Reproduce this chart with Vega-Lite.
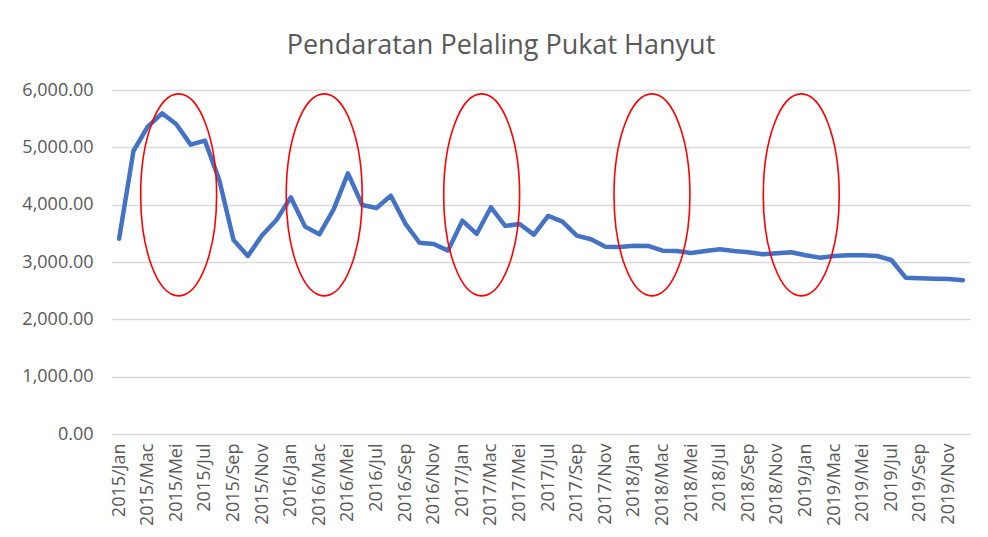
{
  "$schema": "https://vega.github.io/schema/vega-lite/v6.json",
  "width": 858,
  "height": 344,
  "autosize": {"type": "none"},
  "padding": {"left": 112, "top": 90, "right": 18, "bottom": 103},
  "background": "white",
  "config": {
    "view": {"stroke": null},
    "font": "Open Sans"
  },
  "title": {
    "text": "Pendaratan Pelaling Pukat Hanyut",
    "font": "Open Sans",
    "fontSize": 27,
    "fontWeight": "normal",
    "color": "#595959",
    "anchor": "middle",
    "dx": -40,
    "offset": 21
  },
  "datasets": {
    "landings": [
      {"idx": 0, "bulan": "2015/Jan", "value": 3407},
      {"idx": 1, "bulan": "2015/Feb", "value": 4936},
      {"idx": 2, "bulan": "2015/Mac", "value": 5360},
      {"idx": 3, "bulan": "2015/Apr", "value": 5594},
      {"idx": 4, "bulan": "2015/Mei", "value": 5402},
      {"idx": 5, "bulan": "2015/Jun", "value": 5047},
      {"idx": 6, "bulan": "2015/Jul", "value": 5117},
      {"idx": 7, "bulan": "2015/Ogo", "value": 4430},
      {"idx": 8, "bulan": "2015/Sep", "value": 3384},
      {"idx": 9, "bulan": "2015/Okt", "value": 3105},
      {"idx": 10, "bulan": "2015/Nov", "value": 3466},
      {"idx": 11, "bulan": "2015/Dis", "value": 3733},
      {"idx": 12, "bulan": "2016/Jan", "value": 4128},
      {"idx": 13, "bulan": "2016/Feb", "value": 3617},
      {"idx": 14, "bulan": "2016/Mac", "value": 3483},
      {"idx": 15, "bulan": "2016/Apr", "value": 3919},
      {"idx": 16, "bulan": "2016/Mei", "value": 4547},
      {"idx": 17, "bulan": "2016/Jun", "value": 3994},
      {"idx": 18, "bulan": "2016/Jul", "value": 3942},
      {"idx": 19, "bulan": "2016/Ogo", "value": 4157},
      {"idx": 20, "bulan": "2016/Sep", "value": 3675},
      {"idx": 21, "bulan": "2016/Okt", "value": 3335},
      {"idx": 22, "bulan": "2016/Nov", "value": 3314},
      {"idx": 23, "bulan": "2016/Dis", "value": 3198},
      {"idx": 24, "bulan": "2017/Jan", "value": 3721},
      {"idx": 25, "bulan": "2017/Feb", "value": 3489},
      {"idx": 26, "bulan": "2017/Mac", "value": 3954},
      {"idx": 27, "bulan": "2017/Apr", "value": 3628},
      {"idx": 28, "bulan": "2017/Mei", "value": 3663},
      {"idx": 29, "bulan": "2017/Jun", "value": 3477},
      {"idx": 30, "bulan": "2017/Jul", "value": 3803},
      {"idx": 31, "bulan": "2017/Ogo", "value": 3704},
      {"idx": 32, "bulan": "2017/Sep", "value": 3460},
      {"idx": 33, "bulan": "2017/Okt", "value": 3396},
      {"idx": 34, "bulan": "2017/Nov", "value": 3268},
      {"idx": 35, "bulan": "2017/Dis", "value": 3262},
      {"idx": 36, "bulan": "2018/Jan", "value": 3285},
      {"idx": 37, "bulan": "2018/Feb", "value": 3280},
      {"idx": 38, "bulan": "2018/Mac", "value": 3198},
      {"idx": 39, "bulan": "2018/Apr", "value": 3192},
      {"idx": 40, "bulan": "2018/Mei", "value": 3157},
      {"idx": 41, "bulan": "2018/Jun", "value": 3192},
      {"idx": 42, "bulan": "2018/Jul", "value": 3221},
      {"idx": 43, "bulan": "2018/Ogo", "value": 3192},
      {"idx": 44, "bulan": "2018/Sep", "value": 3169},
      {"idx": 45, "bulan": "2018/Okt", "value": 3134},
      {"idx": 46, "bulan": "2018/Nov", "value": 3152},
      {"idx": 47, "bulan": "2018/Dis", "value": 3169},
      {"idx": 48, "bulan": "2019/Jan", "value": 3117},
      {"idx": 49, "bulan": "2019/Feb", "value": 3076},
      {"idx": 50, "bulan": "2019/Mac", "value": 3105},
      {"idx": 51, "bulan": "2019/Apr", "value": 3117},
      {"idx": 52, "bulan": "2019/Mei", "value": 3117},
      {"idx": 53, "bulan": "2019/Jun", "value": 3105},
      {"idx": 54, "bulan": "2019/Jul", "value": 3035},
      {"idx": 55, "bulan": "2019/Ogo", "value": 2727},
      {"idx": 56, "bulan": "2019/Sep", "value": 2716},
      {"idx": 57, "bulan": "2019/Okt", "value": 2710},
      {"idx": 58, "bulan": "2019/Nov", "value": 2704},
      {"idx": 59, "bulan": "2019/Dis", "value": 2681}
    ],
    "circles": [
      {"idx": 4.16, "value": 4170},
      {"idx": 14.34, "value": 4170},
      {"idx": 25.35, "value": 4170},
      {"idx": 37.26, "value": 4170},
      {"idx": 47.7, "value": 4170}
    ]
  },
  "encoding": {
    "x": {
      "field": "idx",
      "type": "quantitative",
      "scale": {"domain": [-0.5, 59.5], "nice": false, "zero": false},
      "axis": {
        "title": null,
        "values": [0, 2, 4, 6, 8, 10, 12, 14, 16, 18, 20, 22, 24, 26, 28, 30, 32, 34, 36, 38, 40, 42, 44, 46, 48, 50, 52, 54, 56, 58],
        "labelExpr": "(2015 + floor(datum.value / 12)) + '/' + ['Jan','Feb','Mac','Apr','Mei','Jun','Jul','Ogo','Sep','Okt','Nov','Dis'][datum.value % 12]",
        "labelAngle": -90,
        "labelAlign": "right",
        "labelBaseline": "middle",
        "labelFont": "Open Sans",
        "labelFontSize": 18,
        "labelColor": "#595959",
        "labelPadding": 9,
        "labelOverlap": false,
        "labelBound": false,
        "labelFlush": false,
        "ticks": false,
        "domain": false,
        "grid": false
      }
    },
    "y": {
      "field": "value",
      "type": "quantitative",
      "scale": {"domain": [0, 6000], "nice": false},
      "axis": {
        "title": null,
        "values": [0, 1000, 2000, 3000, 4000, 5000, 6000],
        "format": ",.2f",
        "labelFont": "Open Sans",
        "labelFontSize": 18,
        "labelColor": "#595959",
        "labelPadding": 19,
        "ticks": false,
        "domain": false,
        "grid": true,
        "gridColor": "#d9d9d9",
        "gridWidth": 1.3
      }
    }
  },
  "layer": [
    {
      "data": {"name": "landings"},
      "mark": {"type": "line", "color": "#4472C4", "strokeWidth": 4.5, "strokeJoin": "round", "strokeCap": "round"}
    },
    {
      "data": {"name": "circles"},
      "mark": {
        "type": "point",
        "shape": "M0,-1A0.376,1,0,1,1,0,1A0.376,1,0,1,1,0,-1Z",
        "filled": false,
        "stroke": "#FF0000",
        "strokeWidth": 1.6,
        "opacity": 1,
        "size": 40804
      }
    }
  ]
}
